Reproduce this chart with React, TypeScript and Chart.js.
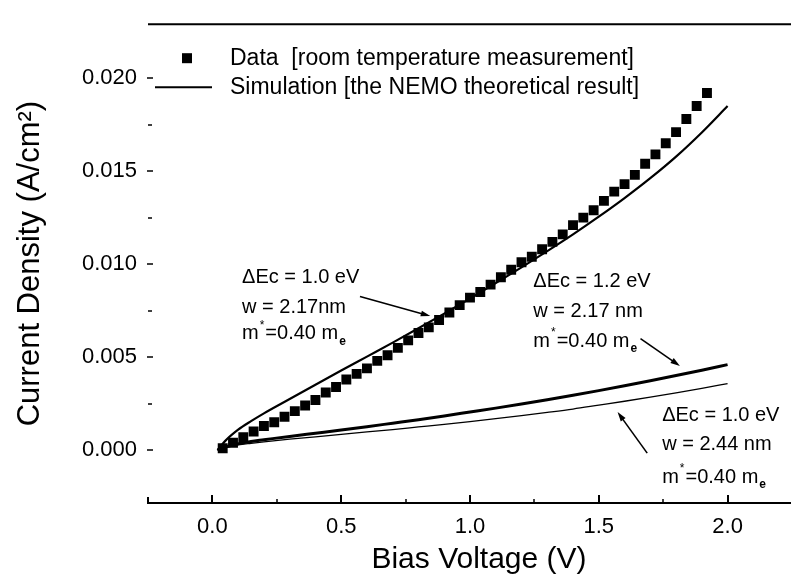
import React, { useEffect, useRef } from "react";
import { Chart, registerables } from "chart.js";

Chart.register(...registerables);

const FONT = "'Liberation Sans', Arial, Helvetica, sans-serif";

// Measured data [room temperature measurement]
const dataVoltage = [
  0.04, 0.08, 0.12, 0.16, 0.2, 0.24, 0.28, 0.32, 0.36, 0.4, 0.44, 0.48,
  0.52, 0.56, 0.6, 0.64, 0.68, 0.72, 0.76, 0.8, 0.84, 0.88, 0.92, 0.96,
  1.0, 1.04, 1.08, 1.12, 1.16, 1.2, 1.24, 1.28, 1.32, 1.36, 1.4, 1.44,
  1.48, 1.52, 1.56, 1.6, 1.64, 1.68, 1.72, 1.76, 1.8, 1.84, 1.88, 1.92,
];
const dataCurrent = [
  0.0001, 0.0004, 0.0007, 0.001, 0.0013, 0.0015, 0.0018, 0.0021, 0.0024, 0.0027, 0.0031, 0.0034,
  0.0038, 0.0041, 0.0044, 0.0048, 0.0051, 0.0055, 0.0059, 0.0063, 0.0066, 0.007, 0.0074, 0.0078,
  0.0082, 0.0085, 0.0089, 0.0093, 0.0097, 0.0101, 0.0104, 0.0108, 0.0112, 0.0116, 0.0121, 0.0125,
  0.0129, 0.0134, 0.0139, 0.0143, 0.0148, 0.0154, 0.0159, 0.0165, 0.0171, 0.0178, 0.0185, 0.0192,
];

// NEMO simulations
const simVoltage = [
  0.02, 0.05, 0.1, 0.15, 0.2, 0.3, 0.4, 0.5, 0.6, 0.7, 0.8, 0.9, 1.0,
  1.1, 1.2, 1.3, 1.4, 1.5, 1.6, 1.7, 1.8, 1.9, 2.0,
];
// ΔEc = 1.0 eV, w = 2.17 nm
const simMain = [
  0.0, 0.0005, 0.0011, 0.00156, 0.00198, 0.00275, 0.00352, 0.00428, 0.00503, 0.00578, 0.00655, 0.00734, 0.00815,
  0.00898, 0.00983, 0.0107, 0.0116, 0.01255, 0.01355, 0.01462, 0.01578, 0.01708, 0.0185,
];
// ΔEc = 1.2 eV, w = 2.17 nm
const simHighBarrier = [
  0.0, 0.00017, 0.00035, 0.00047, 0.00056, 0.00074, 0.00091, 0.00108, 0.00126, 0.00145, 0.00164, 0.00184, 0.00205,
  0.00226, 0.00248, 0.00271, 0.00295, 0.0032, 0.00346, 0.00373, 0.00401, 0.0043, 0.0046,
];
// ΔEc = 1.0 eV, w = 2.44 nm
const simWideWell = [
  0.0, 0.00014, 0.00028, 0.00037, 0.00045, 0.00059, 0.00072, 0.00085, 0.00098, 0.00111, 0.00125, 0.00139, 0.00154,
  0.0017, 0.00186, 0.00203, 0.00221, 0.00242, 0.00263, 0.00285, 0.00308, 0.00332, 0.00358,
];

const xMajorTicks = [0, 0.5, 1.0, 1.5, 2.0];
const xMinorTicks = [0.25, 0.75, 1.25, 1.75];
const yMajorTicks = [0, 0.005, 0.01, 0.015, 0.02];
const yMinorTicks = [0.0025, 0.0075, 0.0125, 0.0175];

const legendLabels = [
  "Data  [room temperature measurement]",
  "Simulation [the NEMO theoretical result]",
];

const annotations = [
  { v: 0.115, j: [0.00926, 0.00768, 0.00626], lines: ["\u0394Ec = 1.0 eV", "w = 2.17nm"], arrow: [0.573, 0.00826, 0.846, 0.00721] },
  { v: 1.246, j: [0.00905, 0.00747, 0.00584], lines: ["\u0394Ec = 1.2 eV", "w = 2.17 nm"], arrow: [1.662, 0.006, 1.815, 0.00453] },
  { v: 1.746, j: [0.00189, 0.00032, -0.00147], lines: ["\u0394Ec = 1.0 eV", "w = 2.44 nm"], arrow: [1.688, -0.00016, 1.573, 0.00205] },
];

const toPoints = (xs: number[], ys: number[]) => xs.map((x, i) => ({ x, y: ys[i] }));

function seg(ctx: CanvasRenderingContext2D, x1: number, y1: number, x2: number, y2: number) {
  ctx.beginPath();
  ctx.moveTo(x1, y1);
  ctx.lineTo(x2, y2);
  ctx.stroke();
}

function arrow(ctx: CanvasRenderingContext2D, x1: number, y1: number, x2: number, y2: number) {
  const ang = Math.atan2(y2 - y1, x2 - x1);
  const len = 10;
  ctx.lineWidth = 1.6;
  seg(ctx, x1, y1, x2 - Math.cos(ang) * 5, y2 - Math.sin(ang) * 5);
  ctx.beginPath();
  ctx.moveTo(x2, y2);
  ctx.lineTo(x2 - len * Math.cos(ang - 0.3), y2 - len * Math.sin(ang - 0.3));
  ctx.lineTo(x2 - len * Math.cos(ang + 0.3), y2 - len * Math.sin(ang + 0.3));
  ctx.closePath();
  ctx.fill();
}

function massLine(ctx: CanvasRenderingContext2D, x: number, y: number, size: number) {
  const big = `${size}px ${FONT}`;
  const small = `${Math.round(size * 0.6)}px ${FONT}`;
  ctx.font = big;
  ctx.fillText("m", x, y);
  let w = ctx.measureText("m").width;
  ctx.font = small;
  ctx.fillText("*", x + w + 1, y - size * 0.42);
  w += ctx.measureText("*").width + 2;
  ctx.font = big;
  ctx.fillText("=0.40 m", x + w, y);
  w += ctx.measureText("=0.40 m").width;
  ctx.font = `bold ${Math.round(size * 0.6)}px ${FONT}`;
  ctx.fillText("e", x + w + 1, y + size * 0.38);
}

const decorPlugin = {
  id: "decor",
  afterDraw(chart: any) {
    const { ctx, chartArea: a, scales } = chart;
    const xs = scales.x;
    const ys = scales.y;
    ctx.save();
    ctx.strokeStyle = "#000";
    ctx.fillStyle = "#000";
    ctx.lineCap = "butt";

    // frame: top line and bottom axis
    ctx.lineWidth = 2;
    seg(ctx, a.left, a.top, a.right, a.top);
    seg(ctx, a.left - 1, a.bottom, a.right, a.bottom);
    seg(ctx, a.left, a.bottom, a.left, a.bottom - 6);

    // x ticks (inside)
    xMajorTicks.forEach((v) => {
      const p = Math.round(xs.getPixelForValue(v));
      seg(ctx, p, a.bottom, p, a.bottom - 8);
    });
    ctx.lineWidth = 1.5;
    xMinorTicks.forEach((v) => {
      const p = Math.round(xs.getPixelForValue(v));
      seg(ctx, p, a.bottom, p, a.bottom - 4);
    });

    // y ticks
    ctx.lineWidth = 1.5;
    yMajorTicks.forEach((v) => {
      const p = Math.round(ys.getPixelForValue(v));
      seg(ctx, a.left - 1, p, a.left + 5, p);
    });
    yMinorTicks.forEach((v) => {
      const p = Math.round(ys.getPixelForValue(v));
      seg(ctx, a.left, p, a.left + 4, p);
    });

    // legend
    const lf = 23;
    ctx.font = `${lf}px ${FONT}`;
    ctx.textBaseline = "middle";
    ctx.textAlign = "left";
    const r1 = a.top + 34;
    const r2 = a.top + 63;
    ctx.fillRect(a.left + 34, r1 - 5, 10, 10);
    ctx.fillText(legendLabels[0], a.left + 82, r1);
    ctx.lineWidth = 2;
    seg(ctx, a.left + 7, r2, a.left + 64, r2);
    ctx.fillText(legendLabels[1], a.left + 82, r2);

    // annotations
    const af = 20;
    annotations.forEach((an) => {
      const x = xs.getPixelForValue(an.v);
      ctx.font = `${af}px ${FONT}`;
      ctx.fillText(an.lines[0], x, ys.getPixelForValue(an.j[0]));
      ctx.fillText(an.lines[1], x, ys.getPixelForValue(an.j[1]));
      massLine(ctx, x, ys.getPixelForValue(an.j[2]), af);
      const [v1, j1, v2, j2] = an.arrow;
      arrow(ctx, xs.getPixelForValue(v1), ys.getPixelForValue(j1), xs.getPixelForValue(v2), ys.getPixelForValue(j2));
    });

    ctx.restore();
  },
};

export default function App() {
  const ref = useRef<HTMLCanvasElement>(null);

  useEffect(() => {
    const chart = new Chart(ref.current!, {
      type: "line",
      data: {
        datasets: [
          {
            label: "Data [room temperature measurement]",
            data: toPoints(dataVoltage, dataCurrent),
            showLine: false,
            pointStyle: "rect",
            pointRadius: 7,
            pointBackgroundColor: "#000",
            pointBorderWidth: 0,
            borderColor: "#000",
            order: 0,
          },
          {
            label: "Simulation [the NEMO theoretical result]",
            data: toPoints(simVoltage, simMain),
            borderColor: "#000",
            borderWidth: 2.2,
            pointRadius: 0,
            cubicInterpolationMode: "monotone",
            order: 1,
          },
          {
            label: "ΔEc = 1.2 eV, w = 2.17 nm",
            data: toPoints(simVoltage, simHighBarrier),
            borderColor: "#000",
            borderWidth: 3,
            pointRadius: 0,
            cubicInterpolationMode: "monotone",
            order: 2,
          },
          {
            label: "ΔEc = 1.0 eV, w = 2.44 nm",
            data: toPoints(simVoltage, simWideWell),
            borderColor: "#000",
            borderWidth: 1.3,
            pointRadius: 0,
            cubicInterpolationMode: "monotone",
            order: 3,
          },
        ],
      },
      options: {
        responsive: false,
        animation: false,
        devicePixelRatio: 1,
        layout: { padding: { top: 14, left: 0, right: 0, bottom: 0 } },
        plugins: {
          legend: { display: false },
          tooltip: { enabled: false },
        },
        scales: {
          x: {
            type: "linear",
            min: -0.25,
            max: 2.32,
            grid: { display: false, drawTicks: false },
            border: { display: false },
            ticks: {
              stepSize: 0.5,
              includeBounds: false,
              padding: 11,
              color: "#000",
              font: { family: FONT, size: 22 },
              callback: (v: any) => Number(v).toFixed(1),
            },
            title: {
              display: true,
              text: "Bias Voltage (V)",
              color: "#000",
              font: { family: FONT, size: 30 },
              padding: { top: 0, bottom: 2 },
            },
            afterFit: (s: any) => {
              s.height = 77;
            },
          },
          y: {
            type: "linear",
            min: -0.00284,
            max: 0.0229,
            grid: { display: false, drawTicks: false },
            border: { display: false },
            ticks: {
              stepSize: 0.005,
              includeBounds: false,
              padding: 11,
              color: "#000",
              font: { family: FONT, size: 22 },
              callback: (v: any) => Number(v).toFixed(3),
            },
            title: {
              display: true,
              text: "Current Density (A/cm²)",
              color: "#000",
              font: { family: FONT, size: 31 },
              padding: { top: 12, bottom: 0 },
            },
            afterFit: (s: any) => {
              s.width = 148;
            },
          },
        },
      },
      plugins: [decorPlugin],
    } as any);
    return () => chart.destroy();
  }, []);

  return (
    <div
      style={{
        position: "fixed",
        left: 0,
        top: 0,
        width: 791,
        height: 580,
        overflow: "hidden",
        background: "#fff",
      }}
    >
      <canvas ref={ref} width={817} height={580} style={{ display: "block" }} />
    </div>
  );
}
